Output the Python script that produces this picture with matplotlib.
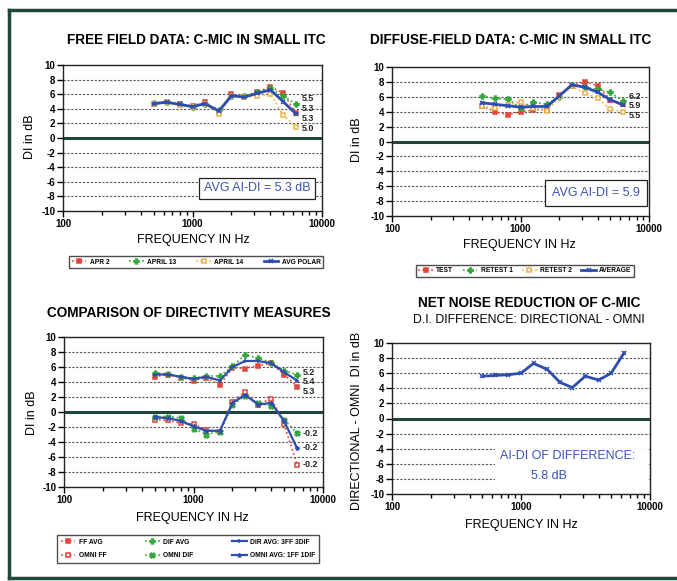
import matplotlib
matplotlib.use("Agg")
import matplotlib.pyplot as plt
from matplotlib.lines import Line2D
from matplotlib.patches import Rectangle
from matplotlib.ticker import FixedLocator, NullFormatter

plt.rcParams["axes.unicode_minus"] = False

W, H = 677, 581

# frequências de terço de oitava
freqs = [500, 630, 800, 1000, 1250, 1600, 2000, 2500, 3150, 4000, 5000, 6300]

# painel 1: campo livre
apr2 = [4.6, 4.9, 4.6, 4.4, 4.9, 3.6, 6.0, 5.6, 6.3, 7.0, 6.2, 3.4]
april13 = [4.8, 5.0, 4.6, 4.2, 4.6, 3.9, 5.8, 5.7, 6.3, 6.8, 5.8, 4.6]
april14 = [4.7, 4.9, 4.5, 4.3, 4.7, 3.3, 5.8, 5.6, 5.8, 6.0, 3.2, 1.5]
avg_polar = [4.7, 4.9, 4.6, 4.3, 4.7, 3.7, 5.8, 5.6, 6.1, 6.6, 5.0, 3.3]

# painel 2: campo difuso
test = [4.8, 4.0, 3.6, 4.0, 4.2, 4.4, 6.2, 7.5, 8.0, 7.5, 5.6, 5.0]
retest1 = [6.1, 5.8, 5.7, 4.5, 5.3, 5.0, 6.0, 7.6, 7.3, 7.0, 6.6, 5.4]
retest2 = [4.7, 4.5, 4.9, 5.3, 4.5, 4.1, 6.0, 7.4, 6.5, 5.8, 4.3, 4.0]
average = [5.2, 5.0, 4.8, 4.6, 4.7, 4.7, 6.1, 7.6, 7.3, 6.6, 5.6, 4.9]

# painel 3: comparação
ff_avg = [4.7, 5.0, 4.6, 4.2, 4.6, 3.6, 5.9, 5.8, 6.2, 6.5, 5.0, 3.4]
dif_avg = [5.2, 5.1, 4.7, 4.5, 4.8, 4.8, 6.1, 7.6, 7.2, 6.6, 5.5, 5.0]
dir_avg = [5.0, 5.0, 4.7, 4.4, 4.7, 4.2, 6.0, 6.8, 6.8, 6.5, 5.3, 4.2]
omni_ff = [-1.0, -1.1, -1.5, -1.6, -2.4, -2.6, 1.4, 2.7, 1.0, 1.8, -1.6, -7.0]
omni_dif = [-0.6, -0.6, -0.8, -2.2, -3.0, -2.6, 0.9, 2.2, 1.2, 0.8, -1.0, -2.8]
omni_avg = [-0.7, -0.8, -1.2, -1.9, -2.5, -2.5, 1.2, 2.3, 1.0, 1.2, -1.2, -4.8]

# painel 4: diferença
diferenca = [5.6, 5.7, 5.8, 6.0, 7.3, 6.5, 4.8, 4.1, 5.6, 5.1, 6.0, 8.7]

yticks = [10, 8, 6, 4, 2, 0, -2, -4, -6, -8, -10]

RED = "#e2453a"
GREEN = "#34a83a"
ORANGE = "#eeb24a"
BLUE = "#2d4eae"
TXTBLUE = "#3b53b8"
DKGREEN = "#1f4636"

SANS = ["Liberation Sans", "DejaVu Sans"]


def px(x, y):
    return x / W, 1 - y / H


def eixo(fig, l, t, r, b):
    ax = fig.add_axes([l / W, 1 - b / H, (r - l) / W, (b - t) / H])
    ax.set_xscale("log")
    ax.set_xlim(100, 10000)
    ax.set_ylim(-10, 10)
    ax.set_yticks(yticks)
    ax.set_xticks([100, 1000, 10000])
    ax.set_xticklabels(["100", "1000", "10000"])
    ax.xaxis.set_minor_locator(FixedLocator([k * 10 ** e for e in (2, 3) for k in range(2, 10)]))
    ax.xaxis.set_minor_formatter(NullFormatter())
    for lab in ax.get_xticklabels() + ax.get_yticklabels():
        lab.set_fontfamily(SANS)
        lab.set_fontweight("bold")
        lab.set_fontsize(7)
    ax.tick_params(axis="both", which="major", length=4, width=1, pad=1.5, direction="out")
    ax.tick_params(axis="x", which="minor", length=3, width=1, direction="out")
    for sp in ax.spines.values():
        sp.set_linewidth(1.0)
        sp.set_color("#222222")
    for v in yticks[1:-1]:
        if v != 0:
            ax.axhline(v, color="#555555", lw=0.8, ls=(0, (2, 1.5)), zorder=1)
    ax.axhline(0, color=DKGREEN, lw=2.2, zorder=2)
    return ax


def serie(ax, y, cor, marker, ls, lw=1.2, ms=3.5, mfc=None, mew=1.1, label=None):
    ax.plot(freqs, y, color=cor, ls=ls, lw=lw, marker=marker, ms=ms,
            mfc=cor if mfc is None else mfc, mec=cor, mew=mew, label=label, zorder=3)


def rotulo(ax, y, txt):
    ax.annotate(txt, (freqs[-1], y), xytext=(4, 0), textcoords="offset points",
                va="center", ha="left", fontsize=6.5, fontweight="bold",
                family=SANS, color="#222222", zorder=5)


fig = plt.figure(figsize=(W / 100, H / 100), dpi=100)
fig.patch.set_facecolor("white")

# moldura verde escura
fig.add_artist(Line2D([9 / W, 9 / W], [1 - 10 / H, 1 - 578 / H], color=DKGREEN, lw=2.5))
fig.add_artist(Line2D([9 / W, 1], [1 - 10 / H, 1 - 10 / H], color=DKGREEN, lw=2.5))
fig.add_artist(Line2D([9 / W, 1], [1 - 578 / H, 1 - 578 / H], color=DKGREEN, lw=2.5))

tit = dict(fontsize=9.8, fontweight="bold", family=SANS, ha="center", va="center")
xlab = dict(fontsize=9, family=SANS, ha="center", va="center")
ylab = dict(fontsize=9, family=SANS, ha="center", va="center", rotation=90)
leg_kw = dict(frameon=True, fancybox=False, edgecolor="#222222", handlelength=2.2,
              handletextpad=0.5, borderpad=0.4, prop={"family": SANS, "weight": "bold", "size": 4.8})

# ---------------- painel 1 ----------------
ax1 = eixo(fig, 63, 65, 322, 211)
serie(ax1, apr2, RED, "s", ":", label="APR 2")
serie(ax1, april13, GREEN, "P", ":", ms=3.5, label="APRIL 13")
serie(ax1, april14, ORANGE, "s", ":", mfc="white", label="APRIL 14")
serie(ax1, avg_polar, BLUE, "x", "-", lw=2.0, ms=2.5, label="AVG POLAR")
rotulo(ax1, 5.4, "5.5")
rotulo(ax1, 4.0, "5.3")
rotulo(ax1, 2.7, "5.3")
rotulo(ax1, 1.3, "5.0")
ax1.text(0.955, 0.155, "AVG AI-DI = 5.3 dB", transform=ax1.transAxes, ha="right", va="center",
         fontsize=9, family=SANS, color=TXTBLUE, zorder=6,
         bbox=dict(boxstyle="square,pad=0.35", fc="white", ec="#222222", lw=0.9))
fig.text(*px(196, 40), "FREE FIELD DATA: C-MIC IN SMALL ITC", **tit)
fig.text(*px(193, 240), "FREQUENCY IN Hz", **xlab)
fig.text(*px(30, 137), "DI in dB", **ylab)
fig.legend(*ax1.get_legend_handles_labels(), ncol=4, loc="center",
           bbox_to_anchor=px(196, 262), columnspacing=3.0, **leg_kw)

# ---------------- painel 2 ----------------
ax2 = eixo(fig, 392, 67, 649, 216)
serie(ax2, test, RED, "s", ":", label="TEST")
serie(ax2, retest1, GREEN, "P", ":", ms=3.5, label="RETEST 1")
serie(ax2, retest2, ORANGE, "s", ":", mfc="white", label="RETEST 2")
serie(ax2, average, BLUE, "x", "-", lw=2.0, ms=2.5, label="AVERAGE")
rotulo(ax2, 6.1, "6.2")
rotulo(ax2, 4.8, "5.9")
rotulo(ax2, 3.5, "5.5")
ax2.text(0.965, 0.155, "AVG AI-DI = 5.9", transform=ax2.transAxes, ha="right", va="center",
         fontsize=9, family=SANS, color=TXTBLUE, zorder=6,
         bbox=dict(boxstyle="square,pad=0.55", fc="white", ec="#222222", lw=0.9))
fig.text(*px(511, 40), "DIFFUSE-FIELD DATA: C-MIC IN SMALL ITC", **tit)
fig.text(*px(519, 245), "FREQUENCY IN Hz", **xlab)
fig.text(*px(357, 140), "DI in dB", **ylab)
fig.legend(*ax2.get_legend_handles_labels(), ncol=4, loc="center",
           bbox_to_anchor=px(525, 271), columnspacing=1.4, **leg_kw)

# ---------------- painel 3 ----------------
ax3 = eixo(fig, 64, 337, 323, 487)
serie(ax3, ff_avg, RED, "s", ":", label="FF AVG")
serie(ax3, omni_ff, RED, "s", ":", mfc="white", label="OMNI FF")
serie(ax3, dif_avg, GREEN, "P", ":", ms=3.5, label="DIF AVG")
serie(ax3, omni_dif, GREEN, "X", ":", ms=3.5, label="OMNI DIF")
serie(ax3, dir_avg, BLUE, "+", "-", lw=1.6, ms=3.5, label="DIR AVG: 3FF 3DIF")
serie(ax3, omni_avg, BLUE, "*", "-", lw=1.6, ms=3, label="OMNI AVG: 1FF 1DIF")
rotulo(ax3, 5.3, "5.2")
rotulo(ax3, 4.0, "5.4")
rotulo(ax3, 2.7, "5.3")
rotulo(ax3, -2.8, "-0.2")
rotulo(ax3, -4.8, "-0.2")
rotulo(ax3, -7.0, "-0.2")
fig.text(*px(189, 313), "COMPARISON OF DIRECTIVITY MEASURES", **tit)
fig.text(*px(192, 518), "FREQUENCY IN Hz", **xlab)
fig.text(*px(32, 413), "DI in dB", **ylab)
leg_kw3 = dict(leg_kw)
leg_kw3["borderpad"] = 0.6
fig.legend(*ax3.get_legend_handles_labels(), ncol=3, loc="center",
           bbox_to_anchor=px(188, 549), columnspacing=5.8, labelspacing=1.0, **leg_kw3)

# ---------------- painel 4 ----------------
ax4 = eixo(fig, 392, 343, 650, 494)
serie(ax4, diferenca, BLUE, "x", "-", lw=2.0, ms=2.5)
ax4.add_patch(Rectangle((0.4, 0.05), 0.595, 0.25, transform=ax4.transAxes,
                        fc="white", ec="none", zorder=2))
ax4.text(0.68, 0.25, "AI-DI OF DIFFERENCE:", transform=ax4.transAxes, ha="center",
         va="center", fontsize=9, family=SANS, color=TXTBLUE, zorder=6)
ax4.text(0.61, 0.12, "5.8 dB", transform=ax4.transAxes, ha="center",
         va="center", fontsize=9, family=SANS, color=TXTBLUE, zorder=6)
fig.text(*px(529, 303), "NET NOISE REDUCTION OF C-MIC", **tit)
fig.text(*px(529, 320), "D.I. DIFFERENCE: DIRECTIONAL - OMNI", fontsize=8.8, family=SANS,
         ha="center", va="center")
fig.text(*px(521, 525), "FREQUENCY IN Hz", **xlab)
fig.text(*px(357, 421), "DIRECTIONAL - OMNI  DI in dB", **ylab)

fig.savefig("out.png", dpi=100)
